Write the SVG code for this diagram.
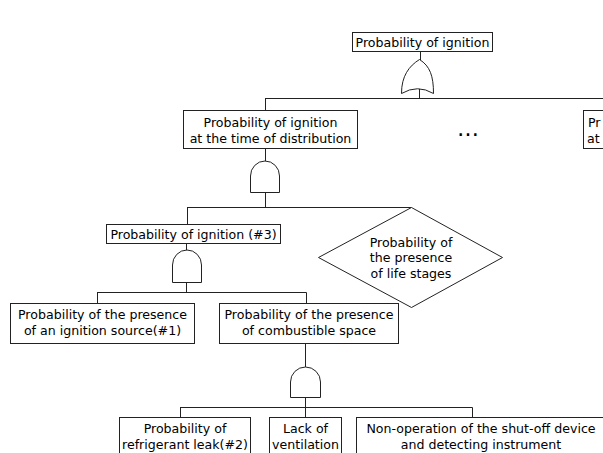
<svg xmlns="http://www.w3.org/2000/svg" width="603" height="453" viewBox="0 0 603 453">
<defs>
<style>
.box{fill:#fff;stroke:#222;stroke-width:1}
.gate{fill:#fff;stroke:#222;stroke-width:1}
.line{fill:none;stroke:#222;stroke-width:1}
text{font-family:"DejaVu Sans","Liberation Sans",sans-serif;font-size:12.6px;fill:#000;text-anchor:middle}
</style>
</defs>
<rect width="603" height="453" fill="#fff"/>
<g id="connectors">
<path class="line" d="M420.5,51 V60 M419.5,88 V98.5 M265,98.5 H603 M265.5,98.5 V110"/>
<path class="line" d="M265.5,148 V162 M265.5,190 V207.5 M187,207.5 H411.5 M187.5,207.5 V224"/>
<path class="line" d="M186.5,243 V251 M186.5,280 V292.5 M97,292.5 H306.5 M97.5,292.5 V303 M306.5,292.5 V303"/>
<path class="line" d="M305.5,343 V368 M305.5,396 V407.5 M180,407.5 H472.5 M180.5,407.5 V417 M305.5,407.5 V417 M472.5,407.5 V417"/>
</g>
<g id="n-top">
<rect class="box" x="352.5" y="32.5" width="140" height="19"/>
<text x="422.5" y="46.5">Probability of ignition</text>
</g>
<g id="g-or">
<path class="gate" d="M401.5,93.5 C401.5,76 409,66 419.5,59.5 C430,66 433.5,76 433.5,93.5 Q417.5,84 401.5,93.5 Z"/>
</g>
<g id="n-dist">
<rect class="box" x="183.5" y="110.5" width="174" height="38"/>
<text x="270.5" y="127">Probability of ignition</text>
<text x="270.5" y="142.5">at the time of distribution</text>
</g>
<g id="n-right">
<rect class="box" x="583.5" y="110.5" width="60" height="38"/>
<text x="588" y="127" style="text-anchor:start">Pr</text>
<text x="587" y="142.5" style="text-anchor:start">at</text>
</g>
<g id="ellipsis">
<text x="468" y="136" style="font-size:22px">…</text>
</g>
<g id="g-and1">
<path class="gate" d="M250.5,192.5 V176 A14.5,15 0 0 1 279.5,176 V192.5 Z"/>
</g>
<g id="n-ign3">
<rect class="box" x="106.5" y="224.5" width="174" height="19"/>
<text x="193.5" y="238.5">Probability of ignition (#3)</text>
</g>
<g id="n-life">
<polygon class="box" points="411.5,207.5 502.5,257.5 411.5,307.5 318.5,257.5"/>
<text x="411" y="246.5">Probability of</text>
<text x="411" y="262">the presence</text>
<text x="411" y="277.5">of life stages</text>
</g>
<g id="g-and2">
<path class="gate" d="M172.5,282.5 V265 A14.5,15 0 0 1 201.5,265 V282.5 Z"/>
</g>
<g id="n-source">
<rect class="box" x="10.5" y="303.5" width="184" height="40"/>
<text x="102.5" y="319">Probability of the presence</text>
<text x="102.5" y="335">of an ignition source(#1)</text>
</g>
<g id="n-space">
<rect class="box" x="219.5" y="303.5" width="179" height="40"/>
<text x="309" y="319">Probability of the presence</text>
<text x="309" y="335">of combustible space</text>
</g>
<g id="g-and3">
<path class="gate" d="M290.5,397.5 V382 A15,15 0 0 1 320.5,382 V397.5 Z"/>
</g>
<g id="n-leak">
<rect class="box" x="119.5" y="417.5" width="131" height="40"/>
<text x="185" y="433">Probability of</text>
<text x="185" y="449">refrigerant leak(#2)</text>
</g>
<g id="n-vent">
<rect class="box" x="269.5" y="417.5" width="72" height="40"/>
<text x="305.5" y="433">Lack of</text>
<text x="305.5" y="449">ventilation</text>
</g>
<g id="n-shutoff">
<rect class="box" x="356.5" y="417.5" width="260" height="40"/>
<text x="481" y="433">Non-operation of the shut-off device</text>
<text x="481" y="449">and detecting instrument</text>
</g>
</svg>
